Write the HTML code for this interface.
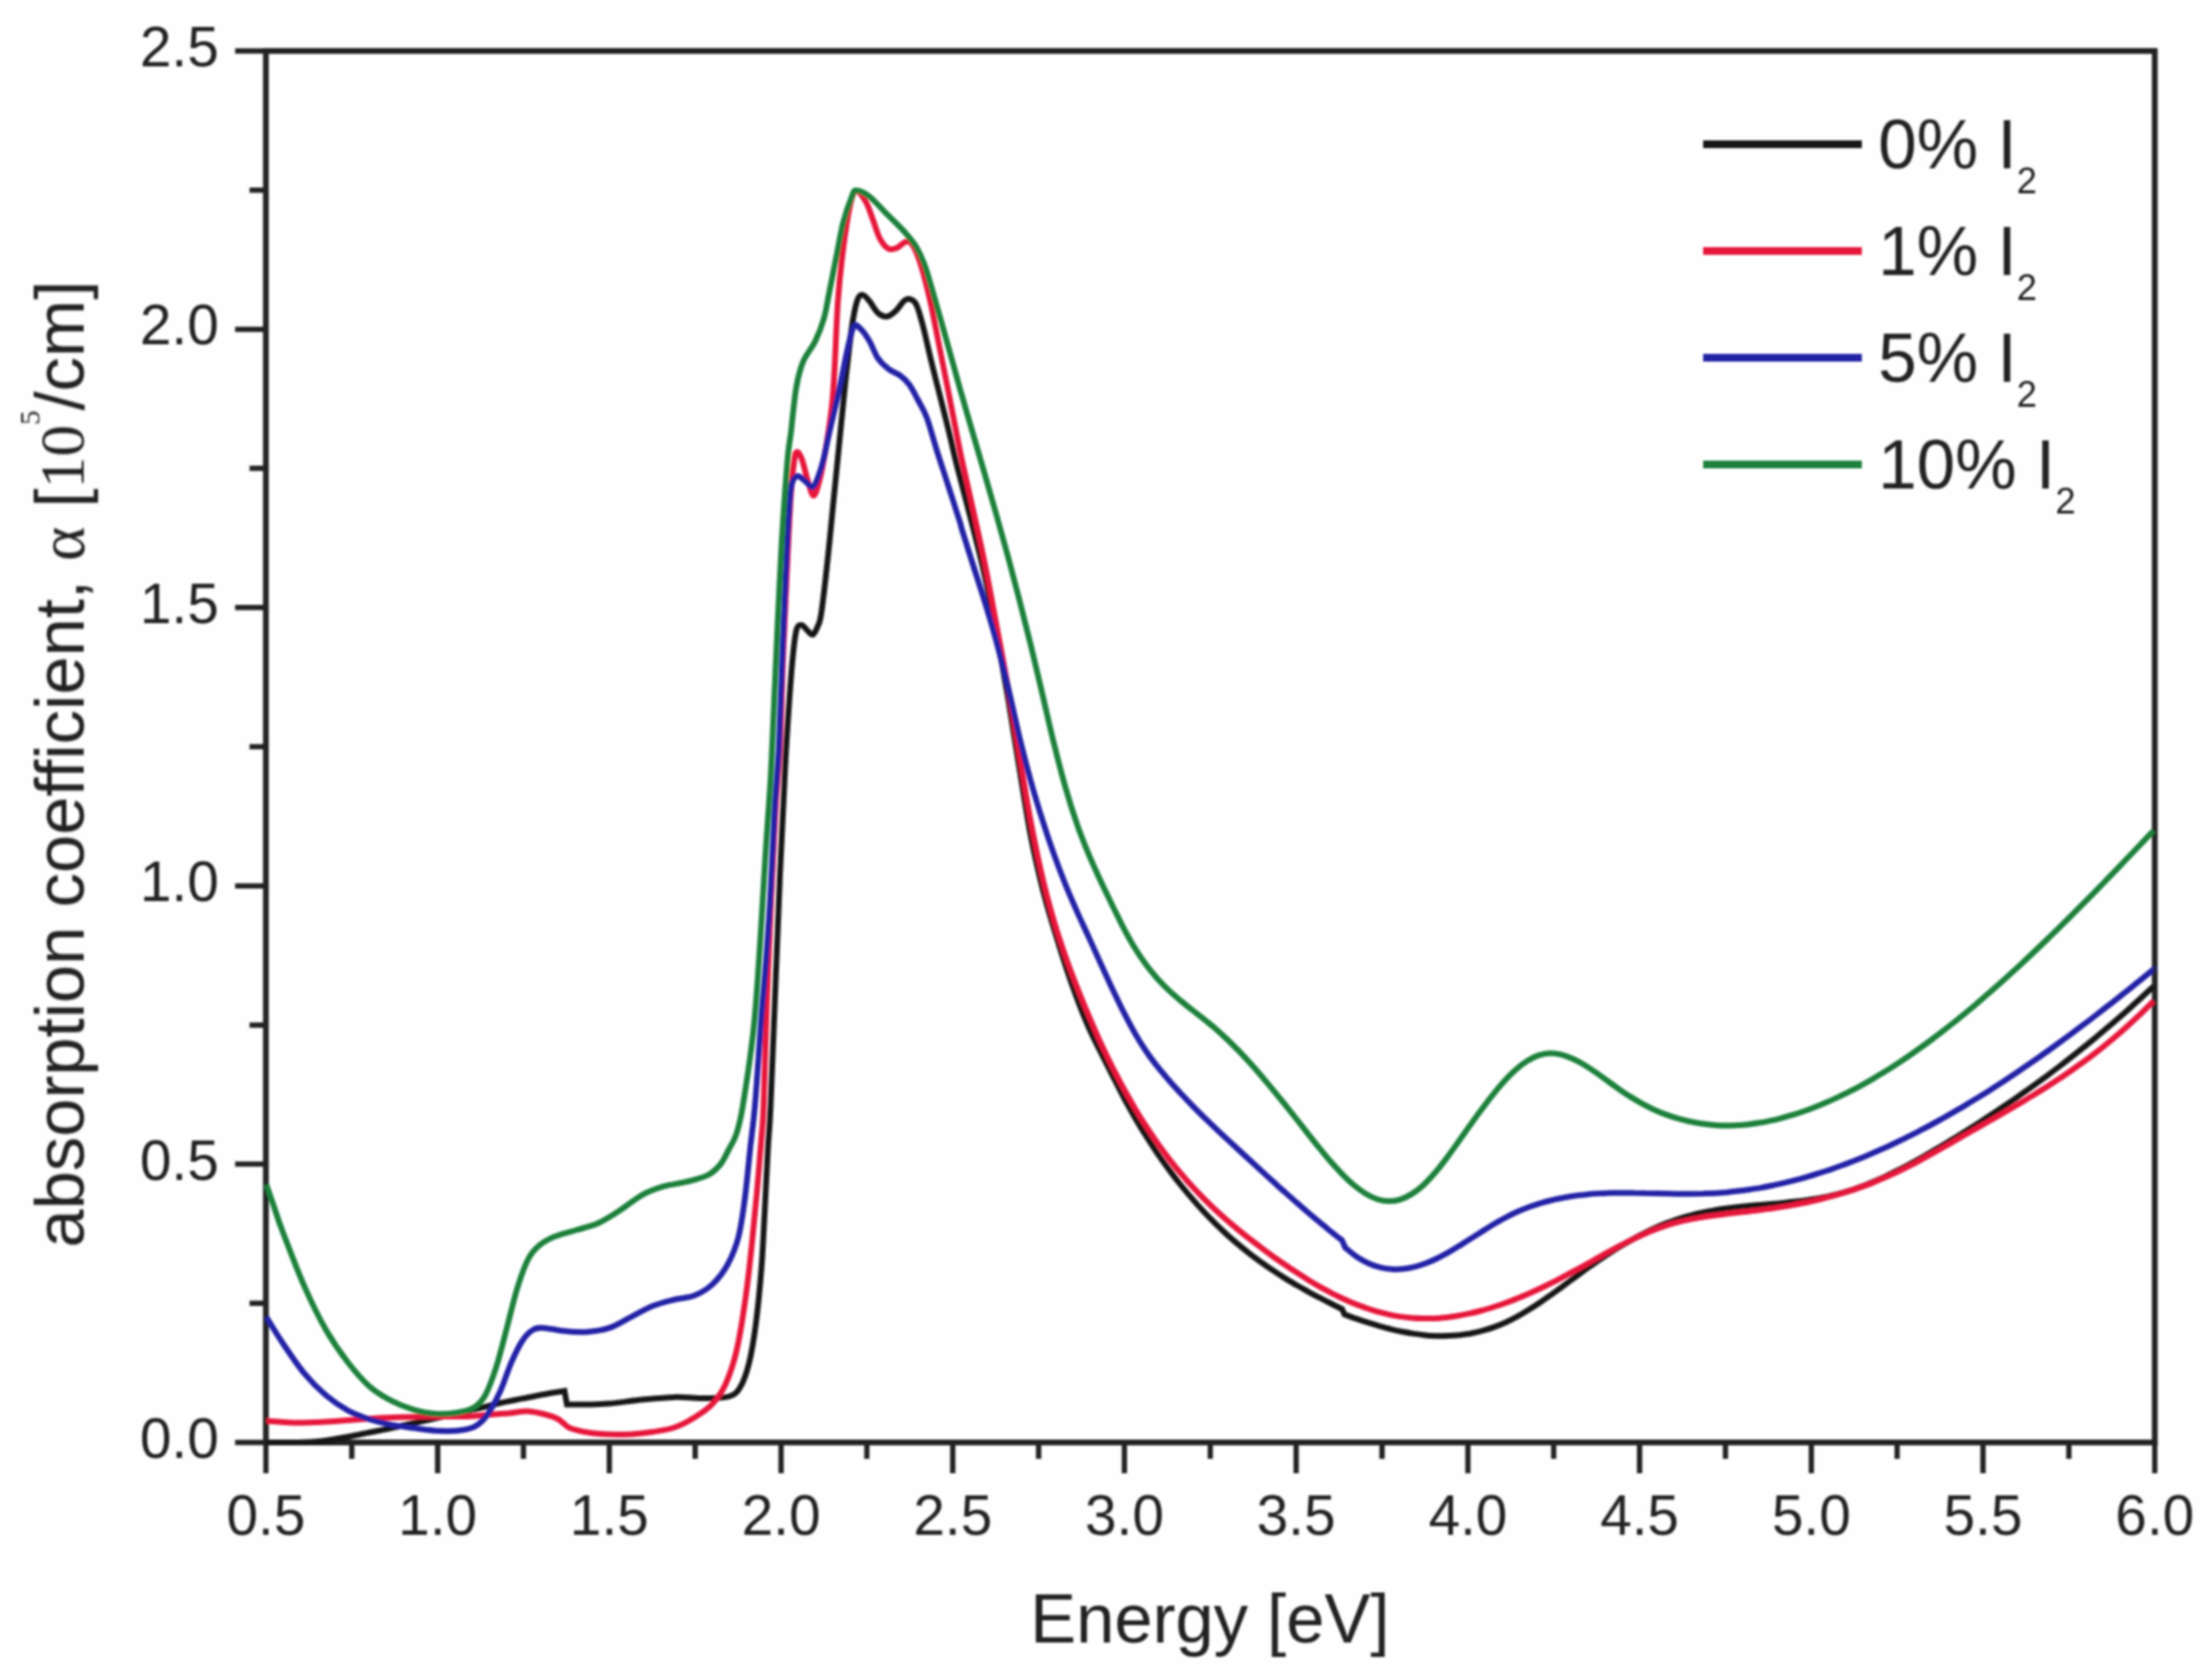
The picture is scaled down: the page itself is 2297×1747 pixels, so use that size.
<!DOCTYPE html>
<html><head><meta charset="utf-8"><title>Absorption coefficient</title>
<style>
html,body{margin:0;padding:0;background:#fefefe;}
svg{display:block;}
text{font-family:"Liberation Sans",Arial,sans-serif;fill:#222;}
</style></head>
<body>
<svg width="2297" height="1747" viewBox="0 0 2297 1747">
<rect width="2297" height="1747" fill="#fefefe"/>
<defs><filter id="soft" x="0" y="0" width="2297" height="1747" filterUnits="userSpaceOnUse"><feGaussianBlur stdDeviation="1.3"/></filter></defs>
<g filter="url(#soft)">
<rect x="276.5" y="53.0" width="1964.1" height="1447.0" fill="none" stroke="#222" stroke-width="6"/>
<path d="M276.5,1500v32M365.8,1500v17M455.1,1500v32M544.3,1500v17M633.6,1500v32M722.9,1500v17M812.2,1500v32M901.4,1500v17M990.7,1500v32M1080.0,1500v17M1169.2,1500v32M1258.5,1500v17M1347.8,1500v32M1437.1,1500v17M1526.4,1500v32M1615.6,1500v17M1704.9,1500v32M1794.2,1500v17M1883.5,1500v32M1972.7,1500v17M2062.0,1500v32M2151.3,1500v17M2240.6,1500v32M276.5,1500.0h-32M276.5,1355.3h-17M276.5,1210.6h-32M276.5,1065.9h-17M276.5,921.2h-32M276.5,776.5h-17M276.5,631.8h-32M276.5,487.1h-17M276.5,342.4h-32M276.5,197.7h-17M276.5,53.0h-32" stroke="#222" stroke-width="5.5" fill="none"/>
<text x="276.5" y="1596" font-size="59" text-anchor="middle">0.5</text>
<text x="455.1" y="1596" font-size="59" text-anchor="middle">1.0</text>
<text x="633.6" y="1596" font-size="59" text-anchor="middle">1.5</text>
<text x="812.2" y="1596" font-size="59" text-anchor="middle">2.0</text>
<text x="990.7" y="1596" font-size="59" text-anchor="middle">2.5</text>
<text x="1169.2" y="1596" font-size="59" text-anchor="middle">3.0</text>
<text x="1347.8" y="1596" font-size="59" text-anchor="middle">3.5</text>
<text x="1526.4" y="1596" font-size="59" text-anchor="middle">4.0</text>
<text x="1704.9" y="1596" font-size="59" text-anchor="middle">4.5</text>
<text x="1883.5" y="1596" font-size="59" text-anchor="middle">5.0</text>
<text x="2062.0" y="1596" font-size="59" text-anchor="middle">5.5</text>
<text x="2240.6" y="1596" font-size="59" text-anchor="middle">6.0</text>
<text x="227.5" y="1516.0" font-size="59" text-anchor="end">0.0</text>
<text x="227.5" y="1226.6" font-size="59" text-anchor="end">0.5</text>
<text x="227.5" y="937.2" font-size="59" text-anchor="end">1.0</text>
<text x="227.5" y="647.8" font-size="59" text-anchor="end">1.5</text>
<text x="227.5" y="358.4" font-size="59" text-anchor="end">2.0</text>
<text x="227.5" y="69.0" font-size="59" text-anchor="end">2.5</text>
<path d="M277.0,1500.0C282.5,1500.0 300.4,1500.2 310.0,1500.0C319.6,1499.8 326.0,1499.6 334.7,1498.6C343.4,1497.6 353.7,1495.5 362.0,1494.0C370.3,1492.5 377.0,1491.0 384.5,1489.5C392.0,1488.0 395.8,1487.4 407.0,1485.0C418.2,1482.6 436.9,1478.4 452.0,1475.0C467.1,1471.6 486.4,1467.3 497.7,1464.6C509.0,1461.9 512.5,1460.7 520.0,1459.0C527.5,1457.3 535.4,1455.9 543.0,1454.4C550.6,1452.9 558.3,1451.3 565.6,1450.0C572.9,1448.7 583.4,1447.1 587.0,1446.5L589.5,1460.5C593.0,1460.5 603.5,1460.7 610.8,1460.5C618.1,1460.3 624.1,1460.4 633.5,1459.6C642.9,1458.8 656.1,1456.7 667.4,1455.6C678.6,1454.5 689.9,1453.2 701.0,1452.9C712.1,1452.6 724.4,1454.2 734.0,1454.0C743.6,1453.8 752.8,1454.0 758.8,1452.0C764.8,1450.0 766.6,1447.8 770.0,1442.0C773.4,1436.2 776.3,1428.0 779.0,1417.0C781.7,1406.0 783.9,1392.5 786.0,1376.3C788.1,1360.1 790.2,1338.7 791.7,1319.8C793.2,1300.9 793.9,1283.8 795.0,1263.0C796.1,1242.2 797.5,1213.8 798.5,1195.0C799.5,1176.2 800.0,1178.5 801.3,1150.0C802.6,1121.5 804.8,1063.9 806.4,1024.0C808.0,984.1 809.5,944.8 811.0,910.8C812.5,876.8 814.3,842.6 815.4,820.0C816.5,797.4 816.4,796.0 817.7,775.0C819.0,754.0 821.7,713.9 823.4,694.0C825.1,674.1 826.3,663.1 828.0,655.8C829.7,648.5 831.7,650.1 833.5,650.0C835.3,649.9 837.1,653.3 839.0,655.0C840.9,656.7 843.2,660.5 845.0,660.0C846.8,659.5 848.5,655.7 850.0,652.0C851.5,648.3 852.2,649.5 854.0,637.7C855.8,625.9 858.5,601.8 860.7,581.0C863.0,560.2 865.2,535.7 867.5,513.0C869.8,490.3 872.4,463.8 874.3,445.0C876.2,426.2 877.8,409.9 878.8,400.0C879.8,390.1 879.2,395.4 880.4,385.4C881.6,375.4 884.0,352.1 885.8,340.0C887.6,327.9 889.4,318.6 891.2,313.0C893.0,307.4 894.6,306.6 896.7,306.6C898.8,306.6 901.3,309.8 904.0,313.0C906.7,316.2 910.0,322.9 913.0,325.6C916.0,328.3 919.0,329.6 922.0,329.3C925.0,329.0 928.0,326.5 931.0,323.8C934.0,321.1 937.6,315.1 940.0,313.0C942.4,310.9 943.5,310.4 945.6,311.0C947.7,311.6 950.4,311.8 952.8,316.6C955.2,321.4 957.4,330.1 960.0,340.0C962.6,349.9 965.3,363.3 968.5,376.3C971.7,389.3 975.9,405.7 979.0,418.0C982.1,430.3 984.5,439.7 987.0,450.0C989.5,460.3 991.8,471.1 994.0,480.0C996.2,488.9 997.0,491.6 1000.0,503.2C1003.0,514.8 1008.0,533.7 1012.0,549.6C1016.0,565.5 1020.0,580.7 1024.0,598.8C1028.0,616.8 1032.0,637.1 1036.0,658.1C1040.0,679.1 1044.0,701.3 1048.0,724.8C1052.0,748.3 1056.0,774.8 1060.0,799.1C1064.0,823.3 1068.0,849.5 1072.0,870.3C1076.0,891.1 1080.0,907.8 1084.0,923.8C1088.0,939.7 1092.0,952.6 1096.0,966.0C1100.0,979.4 1104.0,992.1 1108.0,1004.2C1112.0,1016.3 1116.0,1027.8 1120.0,1038.4C1124.0,1049.1 1128.0,1059.1 1132.0,1068.2C1136.0,1077.2 1140.0,1084.9 1144.0,1093.0C1148.0,1101.1 1152.0,1109.0 1156.0,1116.8C1160.0,1124.7 1164.0,1132.8 1168.0,1140.3C1172.0,1147.8 1176.0,1154.9 1180.0,1161.9C1184.0,1168.8 1188.0,1175.4 1192.0,1181.7C1196.0,1188.1 1200.0,1194.2 1204.0,1200.1C1208.0,1205.9 1212.0,1211.5 1216.0,1216.9C1220.0,1222.4 1224.0,1227.5 1228.0,1232.5C1232.0,1237.5 1236.0,1242.3 1240.0,1246.9C1244.0,1251.6 1248.0,1256.0 1252.0,1260.2C1256.0,1264.5 1260.0,1268.6 1264.0,1272.6C1268.0,1276.5 1272.0,1280.3 1276.0,1283.9C1280.0,1287.6 1284.0,1291.0 1288.0,1294.4C1292.0,1297.8 1296.0,1301.0 1300.0,1304.1C1304.0,1307.2 1308.0,1310.2 1312.0,1313.0C1316.0,1315.9 1320.0,1318.7 1324.0,1321.3C1328.0,1324.0 1332.0,1326.6 1336.0,1329.1C1340.0,1331.6 1344.0,1333.9 1348.0,1336.3C1352.0,1338.6 1356.0,1340.8 1360.0,1343.0C1364.0,1345.2 1368.0,1347.4 1372.0,1349.4C1376.0,1351.5 1380.1,1353.6 1384.0,1355.5C1387.9,1357.5 1393.6,1360.2 1395.5,1361.2L1398.0,1366.8C1400.0,1367.5 1406.0,1369.8 1410.0,1371.2C1414.0,1372.6 1418.0,1373.9 1422.0,1375.2C1426.0,1376.5 1430.0,1377.7 1434.0,1378.9C1438.0,1380.0 1442.0,1381.1 1446.0,1382.1C1450.0,1383.1 1454.0,1384.0 1458.0,1384.8C1462.0,1385.6 1466.0,1386.3 1470.0,1386.9C1474.0,1387.5 1478.0,1388.0 1482.0,1388.4C1486.0,1388.8 1490.0,1389.0 1494.0,1389.2C1498.0,1389.3 1502.0,1389.3 1506.0,1389.1C1510.0,1389.0 1514.0,1388.7 1518.0,1388.3C1522.0,1387.8 1526.0,1387.3 1530.0,1386.5C1534.0,1385.7 1538.0,1384.8 1542.0,1383.7C1546.0,1382.6 1550.0,1381.4 1554.0,1379.9C1558.0,1378.5 1562.0,1376.8 1566.0,1375.0C1570.0,1373.2 1574.0,1371.1 1578.0,1368.9C1582.0,1366.7 1586.0,1364.3 1590.0,1361.8C1594.0,1359.3 1598.0,1356.7 1602.0,1354.0C1606.0,1351.3 1610.0,1348.4 1614.0,1345.6C1618.0,1342.7 1622.0,1339.8 1626.0,1336.8C1630.0,1333.9 1634.0,1330.9 1638.0,1328.0C1642.0,1325.1 1646.0,1322.1 1650.0,1319.2C1654.0,1316.4 1658.0,1313.6 1662.0,1310.8C1666.0,1308.1 1670.0,1305.4 1674.0,1302.9C1678.0,1300.3 1682.0,1297.8 1686.0,1295.5C1690.0,1293.1 1694.0,1290.8 1698.0,1288.6C1702.0,1286.4 1706.0,1284.3 1710.0,1282.3C1714.0,1280.3 1718.0,1278.4 1722.0,1276.6C1726.0,1274.8 1730.0,1273.2 1734.0,1271.6C1738.0,1270.1 1742.0,1268.6 1746.0,1267.3C1750.0,1266.0 1754.0,1264.8 1758.0,1263.8C1762.0,1262.7 1766.0,1261.7 1770.0,1260.9C1774.0,1260.0 1778.0,1259.2 1782.0,1258.6C1786.0,1257.9 1790.0,1257.3 1794.0,1256.7C1798.0,1256.2 1802.0,1255.7 1806.0,1255.2C1810.0,1254.8 1814.0,1254.4 1818.0,1254.0C1822.0,1253.6 1826.0,1253.3 1830.0,1253.0C1834.0,1252.6 1838.0,1252.3 1842.0,1251.9C1846.0,1251.6 1850.0,1251.3 1854.0,1250.9C1858.0,1250.5 1862.0,1250.1 1866.0,1249.6C1870.0,1249.2 1874.0,1248.7 1878.0,1248.1C1882.0,1247.5 1886.0,1246.9 1890.0,1246.2C1894.0,1245.5 1898.0,1244.7 1902.0,1243.9C1906.0,1243.0 1910.0,1242.0 1914.0,1240.9C1918.0,1239.8 1922.0,1238.6 1926.0,1237.3C1930.0,1235.9 1934.0,1234.5 1938.0,1233.0C1942.0,1231.4 1946.0,1229.8 1950.0,1228.0C1954.0,1226.3 1958.0,1224.5 1962.0,1222.6C1966.0,1220.7 1970.0,1218.7 1974.0,1216.7C1978.0,1214.7 1982.0,1212.5 1986.0,1210.4C1990.0,1208.2 1994.0,1206.0 1998.0,1203.8C2002.0,1201.5 2006.0,1199.2 2010.0,1196.9C2014.0,1194.5 2018.0,1192.1 2022.0,1189.8C2026.0,1187.4 2030.0,1184.9 2034.0,1182.5C2038.0,1180.0 2042.0,1177.6 2046.0,1175.1C2050.0,1172.5 2054.0,1170.0 2058.0,1167.4C2062.0,1164.9 2066.0,1162.3 2070.0,1159.6C2074.0,1157.0 2078.0,1154.3 2082.0,1151.6C2086.0,1148.9 2090.0,1146.2 2094.0,1143.5C2098.0,1140.7 2102.0,1137.9 2106.0,1135.0C2110.0,1132.2 2114.0,1129.3 2118.0,1126.4C2122.0,1123.5 2126.0,1120.6 2130.0,1117.6C2134.0,1114.6 2138.0,1111.6 2142.0,1108.5C2146.0,1105.5 2150.0,1102.4 2154.0,1099.2C2158.0,1096.1 2162.0,1092.9 2166.0,1089.7C2170.0,1086.5 2174.0,1083.2 2178.0,1079.9C2182.0,1076.6 2186.0,1073.2 2190.0,1069.8C2194.0,1066.4 2198.0,1063.0 2202.0,1059.5C2206.0,1056.0 2210.0,1052.5 2214.0,1048.9C2218.0,1045.3 2222.0,1041.7 2226.0,1038.0C2230.0,1034.4 2235.8,1028.9 2238.0,1026.9C2240.2,1024.8 2239.1,1025.9 2239.3,1025.7" stroke="#161616" stroke-width="6" fill="none" stroke-linejoin="miter" stroke-linecap="butt"/>
<path d="M277.0,1477.5C281.7,1477.8 294.7,1479.3 305.0,1479.5C315.3,1479.7 327.7,1479.1 339.0,1478.5C350.3,1477.9 361.7,1476.8 373.0,1476.0C384.3,1475.2 394.2,1474.5 407.0,1474.0C419.8,1473.5 436.8,1473.2 450.0,1473.0C463.2,1472.8 476.2,1473.3 486.0,1473.0C495.8,1472.7 501.7,1471.6 509.0,1471.0C516.3,1470.4 523.5,1470.1 530.0,1469.5C536.5,1468.9 542.1,1467.3 548.0,1467.5C553.9,1467.7 560.4,1469.2 565.6,1470.5C570.8,1471.8 575.6,1473.4 579.0,1475.0C582.4,1476.6 583.7,1478.3 586.0,1480.0C588.3,1481.7 588.6,1483.4 592.7,1485.0C596.8,1486.6 604.0,1488.4 610.8,1489.5C617.6,1490.6 626.0,1491.2 633.5,1491.5C641.0,1491.8 648.5,1491.9 656.0,1491.5C663.5,1491.1 671.2,1490.2 678.7,1489.0C686.2,1487.8 693.7,1487.0 701.0,1484.5C708.3,1482.0 716.0,1477.8 722.6,1473.7C729.2,1469.6 735.4,1465.7 740.7,1460.0C746.0,1454.3 750.1,1448.7 754.3,1439.7C758.4,1430.7 762.2,1420.1 765.6,1405.8C769.0,1391.5 772.1,1371.8 774.7,1353.7C777.4,1335.6 779.5,1315.9 781.5,1297.0C783.5,1278.1 785.3,1259.3 787.0,1240.5C788.7,1221.7 790.5,1199.1 791.7,1184.0C792.9,1168.9 793.1,1172.9 794.0,1150.0C794.9,1127.1 796.0,1082.8 797.3,1046.6C798.6,1010.4 800.4,966.9 801.9,933.0C803.4,899.1 804.9,869.3 806.4,843.0C807.9,816.7 809.7,801.7 811.0,775.0C812.3,748.3 813.1,712.2 814.3,683.0C815.5,653.8 816.7,627.2 818.0,600.0C819.3,572.8 820.7,540.3 822.0,520.0C823.3,499.7 824.8,486.3 826.0,478.0C827.2,469.7 827.7,470.0 829.0,470.0C830.3,470.0 832.2,473.0 834.0,478.0C835.8,483.0 838.0,493.8 840.0,500.0C842.0,506.2 844.0,515.4 846.0,515.4C848.0,515.4 849.9,507.9 852.0,500.0C854.1,492.1 856.2,480.9 858.4,468.0C860.6,455.1 863.5,436.4 865.0,422.6C866.5,408.8 866.7,403.7 867.7,385.4C868.8,367.1 869.8,334.1 871.3,313.0C872.8,291.9 874.7,275.2 876.8,258.6C878.9,242.0 881.8,223.4 884.0,213.4C886.2,203.4 887.6,199.5 890.3,198.9C893.0,198.3 897.4,205.0 900.3,209.8C903.2,214.6 905.1,221.6 907.5,227.9C909.9,234.2 912.1,242.7 914.8,247.8C917.5,252.9 920.8,257.0 923.8,258.6C926.8,260.2 929.9,258.9 932.9,257.7C935.9,256.5 939.3,251.8 942.0,251.4C944.7,251.0 946.3,250.8 949.0,255.0C951.7,259.2 955.0,267.1 958.0,276.8C961.0,286.5 964.2,299.5 967.3,313.0C970.3,326.5 973.3,342.9 976.3,358.0C979.3,373.1 982.4,388.2 985.4,403.5C988.4,418.8 992.1,437.7 994.5,450.0C996.9,462.3 997.1,463.9 1000.0,477.4C1002.9,490.9 1008.0,512.9 1012.0,531.0C1016.0,549.2 1020.0,566.5 1024.0,586.2C1028.0,606.0 1032.0,628.0 1036.0,649.4C1040.0,670.7 1044.0,691.5 1048.0,714.3C1052.0,737.0 1056.0,762.4 1060.0,786.0C1064.0,809.5 1068.0,834.5 1072.0,855.6C1076.0,876.8 1080.0,895.8 1084.0,912.9C1088.0,930.0 1092.0,944.5 1096.0,958.2C1100.0,971.9 1104.0,983.7 1108.0,995.1C1112.0,1006.6 1116.0,1016.8 1120.0,1026.9C1124.0,1037.1 1128.0,1046.8 1132.0,1056.2C1136.0,1065.6 1140.0,1074.7 1144.0,1083.4C1148.0,1092.0 1152.0,1100.4 1156.0,1108.3C1160.0,1116.3 1164.0,1124.0 1168.0,1131.3C1172.0,1138.6 1176.0,1145.6 1180.0,1152.4C1184.0,1159.1 1188.0,1165.5 1192.0,1171.7C1196.0,1177.8 1200.0,1183.7 1204.0,1189.4C1208.0,1195.0 1212.0,1200.4 1216.0,1205.6C1220.0,1210.7 1224.0,1215.7 1228.0,1220.4C1232.0,1225.2 1236.0,1229.7 1240.0,1234.1C1244.0,1238.4 1248.0,1242.6 1252.0,1246.6C1256.0,1250.6 1260.0,1254.5 1264.0,1258.2C1268.0,1261.9 1272.0,1265.5 1276.0,1269.0C1280.0,1272.5 1284.0,1275.8 1288.0,1279.1C1292.0,1282.4 1296.0,1285.5 1300.0,1288.7C1304.0,1291.8 1308.0,1294.8 1312.0,1297.8C1316.0,1300.8 1320.0,1303.8 1324.0,1306.7C1328.0,1309.5 1332.0,1312.4 1336.0,1315.1C1340.0,1317.9 1344.0,1320.5 1348.0,1323.1C1352.0,1325.7 1356.0,1328.3 1360.0,1330.7C1364.0,1333.2 1368.0,1335.5 1372.0,1337.8C1376.0,1340.0 1380.0,1342.2 1384.0,1344.3C1388.0,1346.4 1392.0,1348.3 1396.0,1350.2C1400.0,1352.1 1404.0,1353.8 1408.0,1355.5C1412.0,1357.1 1416.0,1358.6 1420.0,1360.0C1424.0,1361.4 1428.0,1362.7 1432.0,1363.9C1436.0,1365.0 1440.0,1366.0 1444.0,1366.9C1448.0,1367.8 1452.0,1368.5 1456.0,1369.1C1460.0,1369.7 1464.0,1370.2 1468.0,1370.5C1472.0,1370.8 1476.0,1371.0 1480.0,1371.1C1484.0,1371.1 1488.0,1371.0 1492.0,1370.9C1496.0,1370.7 1500.0,1370.3 1504.0,1369.9C1508.0,1369.5 1512.0,1368.9 1516.0,1368.2C1520.0,1367.6 1524.0,1366.8 1528.0,1365.9C1532.0,1365.1 1536.0,1364.1 1540.0,1363.0C1544.0,1361.9 1548.0,1360.8 1552.0,1359.5C1556.0,1358.2 1560.0,1356.9 1564.0,1355.5C1568.0,1354.0 1572.0,1352.5 1576.0,1350.9C1580.0,1349.3 1584.0,1347.7 1588.0,1345.9C1592.0,1344.2 1596.0,1342.4 1600.0,1340.5C1604.0,1338.7 1608.0,1336.7 1612.0,1334.8C1616.0,1332.8 1620.0,1330.7 1624.0,1328.6C1628.0,1326.6 1632.0,1324.4 1636.0,1322.2C1640.0,1320.1 1644.0,1317.8 1648.0,1315.6C1652.0,1313.4 1656.0,1311.1 1660.0,1308.9C1664.0,1306.6 1668.0,1304.4 1672.0,1302.2C1676.0,1300.0 1680.0,1297.8 1684.0,1295.7C1688.0,1293.6 1692.0,1291.5 1696.0,1289.6C1700.0,1287.6 1704.0,1285.7 1708.0,1283.9C1712.0,1282.1 1716.0,1280.4 1720.0,1278.9C1724.0,1277.3 1728.0,1275.9 1732.0,1274.6C1736.0,1273.4 1740.0,1272.2 1744.0,1271.2C1748.0,1270.1 1752.0,1269.2 1756.0,1268.4C1760.0,1267.5 1764.0,1266.8 1768.0,1266.1C1772.0,1265.4 1776.0,1264.8 1780.0,1264.2C1784.0,1263.7 1788.0,1263.2 1792.0,1262.7C1796.0,1262.2 1800.0,1261.7 1804.0,1261.3C1808.0,1260.8 1812.0,1260.4 1816.0,1259.9C1820.0,1259.5 1824.0,1259.0 1828.0,1258.5C1832.0,1258.0 1836.0,1257.5 1840.0,1256.9C1844.0,1256.4 1848.0,1255.8 1852.0,1255.1C1856.0,1254.5 1860.0,1253.8 1864.0,1253.1C1868.0,1252.4 1872.0,1251.6 1876.0,1250.8C1880.0,1250.0 1884.0,1249.1 1888.0,1248.2C1892.0,1247.2 1896.0,1246.3 1900.0,1245.2C1904.0,1244.2 1908.0,1243.1 1912.0,1241.9C1916.0,1240.8 1920.0,1239.5 1924.0,1238.2C1928.0,1236.9 1932.0,1235.6 1936.0,1234.1C1940.0,1232.7 1944.0,1231.2 1948.0,1229.6C1952.0,1228.0 1956.0,1226.3 1960.0,1224.6C1964.0,1222.8 1968.0,1221.0 1972.0,1219.1C1976.0,1217.2 1980.0,1215.2 1984.0,1213.1C1988.0,1211.1 1992.0,1209.0 1996.0,1206.8C2000.0,1204.7 2004.0,1202.5 2008.0,1200.2C2012.0,1198.0 2016.0,1195.7 2020.0,1193.5C2024.0,1191.2 2028.0,1188.9 2032.0,1186.6C2036.0,1184.3 2040.0,1182.0 2044.0,1179.7C2048.0,1177.4 2052.0,1175.1 2056.0,1172.8C2060.0,1170.5 2064.0,1168.3 2068.0,1166.0C2072.0,1163.7 2076.0,1161.4 2080.0,1159.1C2084.0,1156.8 2088.0,1154.5 2092.0,1152.2C2096.0,1149.8 2100.0,1147.5 2104.0,1145.1C2108.0,1142.7 2112.0,1140.3 2116.0,1137.8C2120.0,1135.4 2124.0,1132.9 2128.0,1130.4C2132.0,1127.8 2136.0,1125.2 2140.0,1122.6C2144.0,1119.9 2148.0,1117.3 2152.0,1114.5C2156.0,1111.7 2160.0,1108.9 2164.0,1106.0C2168.0,1103.1 2172.0,1100.2 2176.0,1097.1C2180.0,1094.1 2184.0,1091.0 2188.0,1087.7C2192.0,1084.5 2196.0,1081.2 2200.0,1077.8C2204.0,1074.4 2208.0,1070.9 2212.0,1067.3C2216.0,1063.7 2220.0,1060.0 2224.0,1056.2C2228.0,1052.4 2233.4,1046.9 2236.0,1044.4C2238.6,1041.8 2238.8,1041.6 2239.3,1041.0" stroke="#e6123a" stroke-width="6" fill="none" stroke-linejoin="miter" stroke-linecap="butt"/>
<path d="M277.0,1369.6C279.8,1374.1 287.4,1386.9 294.0,1396.7C300.6,1406.5 309.1,1419.4 316.6,1428.4C324.1,1437.5 331.4,1444.6 339.0,1451.0C346.6,1457.4 354.4,1462.7 362.0,1466.9C369.6,1471.1 377.0,1473.5 384.5,1476.0C392.0,1478.5 399.4,1480.1 407.0,1481.6C414.6,1483.1 422.5,1484.0 430.0,1485.0C437.5,1486.0 444.5,1487.2 452.0,1487.7C459.5,1488.2 468.2,1488.3 475.0,1487.7C481.8,1487.1 487.7,1486.6 493.0,1483.9C498.3,1481.2 502.1,1477.6 506.7,1471.4C511.2,1465.2 516.1,1455.6 520.3,1446.5C524.4,1437.4 527.8,1425.7 531.6,1417.0C535.4,1408.3 539.3,1400.2 543.0,1394.5C546.7,1388.8 550.2,1385.3 554.0,1383.0C557.8,1380.7 559.9,1380.7 565.6,1380.9C571.3,1381.1 580.5,1383.6 588.0,1384.3C595.5,1385.0 603.2,1385.6 610.8,1385.0C618.4,1384.4 626.0,1383.5 633.5,1380.9C641.0,1378.3 648.5,1373.4 656.0,1369.6C663.5,1365.8 671.2,1361.0 678.7,1358.0C686.2,1355.0 693.7,1353.3 701.0,1351.5C708.3,1349.7 716.0,1349.7 722.6,1347.0C729.2,1344.3 735.0,1340.9 740.7,1335.6C746.4,1330.3 752.1,1323.3 756.6,1315.0C761.1,1306.7 765.0,1297.5 768.0,1285.8C771.0,1274.1 772.7,1260.1 774.7,1245.0C776.7,1229.9 778.3,1210.8 780.0,1195.0C781.7,1179.2 783.0,1172.8 785.0,1150.0C787.0,1127.2 789.8,1083.0 791.7,1058.0C793.6,1033.0 795.0,1020.8 796.5,1000.0C798.0,979.2 799.5,959.2 801.0,933.0C802.5,906.8 804.0,869.3 805.5,843.0C807.0,816.7 808.7,801.7 810.0,775.0C811.3,748.3 812.3,712.2 813.5,683.0C814.7,653.8 815.9,623.8 817.0,600.0C818.1,576.2 819.0,555.8 820.0,540.0C821.0,524.2 821.5,512.5 823.0,505.0C824.5,497.5 826.7,495.8 829.0,495.0C831.3,494.2 834.3,498.1 837.0,500.0C839.7,501.9 842.7,507.2 845.0,506.4C847.3,505.6 849.2,499.6 851.0,495.0C852.8,490.4 854.1,486.5 856.0,479.0C857.9,471.5 859.5,462.6 862.3,450.0C865.1,437.4 870.0,417.3 873.0,403.5C876.0,389.7 878.0,377.9 880.4,367.3C882.8,356.7 885.2,344.2 887.6,340.0C890.0,335.8 892.2,339.6 894.9,342.0C897.6,344.4 901.0,349.5 904.0,354.6C907.0,359.7 909.7,367.9 913.0,372.7C916.3,377.5 919.9,380.6 923.8,383.6C927.7,386.6 932.9,388.1 936.5,390.8C940.1,393.5 942.6,395.7 945.6,399.9C948.6,404.1 951.6,410.3 954.6,416.0C957.6,421.7 960.5,425.6 963.7,434.3C966.9,443.0 970.3,456.2 974.0,468.0C977.7,479.8 981.9,492.3 986.0,505.0C990.1,517.7 996.3,536.8 998.6,544.3C1000.9,551.8 997.8,542.6 1000.0,549.8C1002.2,557.1 1008.0,575.3 1012.0,588.0C1016.0,600.6 1020.0,612.7 1024.0,625.8C1028.0,639.0 1032.0,652.0 1036.0,666.6C1040.0,681.3 1044.0,697.2 1048.0,713.8C1052.0,730.3 1056.0,749.6 1060.0,766.1C1064.0,782.6 1068.0,798.3 1072.0,812.8C1076.0,827.3 1080.0,840.3 1084.0,852.9C1088.0,865.6 1092.0,877.4 1096.0,888.6C1100.0,899.9 1104.0,910.3 1108.0,920.2C1112.0,930.1 1116.0,939.0 1120.0,948.1C1124.0,957.1 1128.0,965.5 1132.0,974.3C1136.0,983.1 1140.0,992.0 1144.0,1000.7C1148.0,1009.5 1152.0,1018.4 1156.0,1026.9C1160.0,1035.3 1164.0,1043.8 1168.0,1051.7C1172.0,1059.6 1176.0,1067.3 1180.0,1074.2C1184.0,1081.2 1188.0,1087.6 1192.0,1093.5C1196.0,1099.4 1200.0,1104.6 1204.0,1109.7C1208.0,1114.8 1212.0,1119.4 1216.0,1124.0C1220.0,1128.6 1224.0,1132.9 1228.0,1137.2C1232.0,1141.5 1236.0,1145.7 1240.0,1149.8C1244.0,1153.9 1248.0,1157.9 1252.0,1161.8C1256.0,1165.7 1260.0,1169.5 1264.0,1173.3C1268.0,1177.1 1272.0,1180.9 1276.0,1184.6C1280.0,1188.3 1284.0,1192.0 1288.0,1195.7C1292.0,1199.4 1296.0,1203.1 1300.0,1206.8C1304.0,1210.5 1308.0,1214.2 1312.0,1217.9C1316.0,1221.5 1320.0,1225.2 1324.0,1228.8C1328.0,1232.4 1332.0,1236.1 1336.0,1239.6C1340.0,1243.2 1344.0,1246.8 1348.0,1250.3C1352.0,1253.8 1356.0,1257.3 1360.0,1260.7C1364.0,1264.1 1368.0,1267.5 1372.0,1270.8C1376.0,1274.2 1380.1,1277.5 1384.0,1280.7C1387.9,1283.9 1393.6,1288.3 1395.5,1289.8L1399.0,1297.7C1401.0,1299.2 1407.0,1304.3 1411.0,1307.0C1415.0,1309.7 1419.0,1311.9 1423.0,1313.7C1427.0,1315.5 1431.0,1316.9 1435.0,1317.9C1439.0,1318.9 1443.0,1319.5 1447.0,1319.8C1451.0,1320.1 1455.0,1320.0 1459.0,1319.6C1463.0,1319.2 1467.0,1318.4 1471.0,1317.4C1475.0,1316.4 1479.0,1315.1 1483.0,1313.5C1487.0,1312.0 1491.0,1310.2 1495.0,1308.2C1499.0,1306.2 1503.0,1304.0 1507.0,1301.8C1511.0,1299.5 1515.0,1297.0 1519.0,1294.6C1523.0,1292.1 1527.0,1289.5 1531.0,1287.0C1535.0,1284.5 1539.0,1281.9 1543.0,1279.4C1547.0,1276.9 1551.0,1274.4 1555.0,1272.0C1559.0,1269.7 1563.0,1267.4 1567.0,1265.4C1571.0,1263.3 1575.0,1261.4 1579.0,1259.6C1583.0,1257.9 1587.0,1256.3 1591.0,1254.8C1595.0,1253.3 1599.0,1252.0 1603.0,1250.8C1607.0,1249.7 1611.0,1248.6 1615.0,1247.7C1619.0,1246.7 1623.0,1245.9 1627.0,1245.2C1631.0,1244.4 1635.0,1243.8 1639.0,1243.3C1643.0,1242.7 1647.0,1242.3 1651.0,1241.9C1655.0,1241.6 1659.0,1241.3 1663.0,1241.1C1667.0,1240.8 1671.0,1240.7 1675.0,1240.6C1679.0,1240.5 1683.0,1240.4 1687.0,1240.4C1691.0,1240.4 1695.0,1240.4 1699.0,1240.5C1703.0,1240.5 1707.0,1240.6 1711.0,1240.7C1715.0,1240.7 1719.0,1240.8 1723.0,1240.9C1727.0,1241.0 1731.0,1241.1 1735.0,1241.2C1739.0,1241.3 1743.0,1241.4 1747.0,1241.4C1751.0,1241.4 1755.0,1241.5 1759.0,1241.4C1763.0,1241.4 1767.0,1241.4 1771.0,1241.3C1775.0,1241.1 1779.0,1241.0 1783.0,1240.7C1787.0,1240.5 1791.0,1240.2 1795.0,1239.9C1799.0,1239.5 1803.0,1239.1 1807.0,1238.6C1811.0,1238.2 1815.0,1237.6 1819.0,1237.0C1823.0,1236.4 1827.0,1235.8 1831.0,1235.1C1835.0,1234.4 1839.0,1233.6 1843.0,1232.8C1847.0,1231.9 1851.0,1231.1 1855.0,1230.1C1859.0,1229.2 1863.0,1228.2 1867.0,1227.1C1871.0,1226.1 1875.0,1225.0 1879.0,1223.8C1883.0,1222.7 1887.0,1221.5 1891.0,1220.2C1895.0,1218.9 1899.0,1217.6 1903.0,1216.3C1907.0,1214.9 1911.0,1213.5 1915.0,1212.0C1919.0,1210.6 1923.0,1209.1 1927.0,1207.5C1931.0,1205.9 1935.0,1204.3 1939.0,1202.7C1943.0,1201.0 1947.0,1199.3 1951.0,1197.6C1955.0,1195.8 1959.0,1194.0 1963.0,1192.2C1967.0,1190.3 1971.0,1188.4 1975.0,1186.5C1979.0,1184.6 1983.0,1182.6 1987.0,1180.6C1991.0,1178.6 1995.0,1176.5 1999.0,1174.4C2003.0,1172.3 2007.0,1170.2 2011.0,1168.0C2015.0,1165.8 2019.0,1163.6 2023.0,1161.3C2027.0,1159.1 2031.0,1156.8 2035.0,1154.4C2039.0,1152.1 2043.0,1149.7 2047.0,1147.3C2051.0,1144.9 2055.0,1142.5 2059.0,1140.0C2063.0,1137.5 2067.0,1135.0 2071.0,1132.4C2075.0,1129.9 2079.0,1127.3 2083.0,1124.7C2087.0,1122.0 2091.0,1119.4 2095.0,1116.7C2099.0,1114.0 2103.0,1111.3 2107.0,1108.6C2111.0,1105.8 2115.0,1103.0 2119.0,1100.2C2123.0,1097.4 2127.0,1094.6 2131.0,1091.7C2135.0,1088.8 2139.0,1085.9 2143.0,1083.0C2147.0,1080.1 2151.0,1077.2 2155.0,1074.2C2159.0,1071.2 2163.0,1068.2 2167.0,1065.2C2171.0,1062.2 2175.0,1059.1 2179.0,1056.0C2183.0,1053.0 2187.0,1049.9 2191.0,1046.7C2195.0,1043.6 2199.0,1040.5 2203.0,1037.3C2207.0,1034.2 2211.0,1031.0 2215.0,1027.8C2219.0,1024.6 2223.0,1021.3 2227.0,1018.1C2231.0,1014.9 2236.9,1010.0 2239.0,1008.3C2241.1,1006.6 2239.2,1008.1 2239.3,1008.1" stroke="#2420a6" stroke-width="6" fill="none" stroke-linejoin="miter" stroke-linecap="butt"/>
<path d="M277.0,1232.0C278.3,1235.8 282.2,1246.8 285.0,1255.0C287.8,1263.2 288.7,1267.2 294.0,1281.0C299.3,1294.8 309.1,1320.9 316.6,1337.9C324.1,1354.9 331.4,1369.8 339.0,1383.0C346.6,1396.2 354.4,1407.2 362.0,1417.0C369.6,1426.8 377.0,1435.4 384.5,1442.0C392.0,1448.6 399.4,1452.7 407.0,1456.7C414.6,1460.7 422.5,1463.6 430.0,1465.8C437.5,1468.0 444.5,1469.5 452.0,1470.0C459.5,1470.5 468.2,1470.1 475.0,1469.0C481.8,1467.9 488.1,1466.5 493.0,1463.5C497.9,1460.5 500.7,1458.0 504.5,1451.0C508.3,1444.0 512.2,1433.3 516.0,1421.6C519.8,1409.9 523.3,1395.0 527.0,1381.0C530.7,1367.0 534.6,1350.0 538.4,1337.9C542.2,1325.8 545.9,1315.6 549.7,1308.4C553.5,1301.2 556.5,1298.7 561.0,1294.9C565.5,1291.1 570.6,1288.5 577.0,1285.8C583.4,1283.1 592.0,1281.3 599.5,1279.0C607.0,1276.7 614.5,1275.4 622.0,1272.0C629.5,1268.6 637.2,1263.5 644.8,1258.6C652.4,1253.7 659.9,1246.9 667.4,1242.8C674.9,1238.7 682.5,1236.0 690.0,1233.7C697.5,1231.4 705.2,1231.1 712.7,1229.2C720.2,1227.3 729.2,1225.4 735.3,1222.4C741.3,1219.4 745.2,1215.6 749.0,1211.0C752.8,1206.4 755.2,1200.3 758.0,1195.0C760.8,1189.7 763.2,1186.9 765.6,1179.4C768.0,1171.9 769.4,1168.4 772.4,1150.0C775.4,1131.6 780.7,1097.5 783.7,1069.0C786.7,1040.5 788.5,1008.9 790.5,978.7C792.5,948.5 794.3,914.5 796.0,888.0C797.7,861.5 799.5,838.8 800.7,820.0C801.9,801.2 801.7,803.5 803.0,775.0C804.3,746.5 806.9,685.1 808.6,649.0C810.3,612.9 811.5,586.7 813.2,558.4C814.9,530.1 817.3,497.1 818.8,479.0C820.3,460.9 820.9,462.6 822.4,450.0C823.9,437.4 825.8,415.8 827.9,403.5C830.0,391.2 831.7,384.4 835.0,376.3C838.3,368.2 844.2,362.2 847.8,354.6C851.4,347.1 854.4,339.4 856.8,331.0C859.2,322.6 860.2,314.6 862.3,304.0C864.4,293.4 867.1,279.8 869.5,267.7C871.9,255.6 874.1,242.1 876.8,231.5C879.5,220.9 883.5,209.9 885.8,204.3C888.0,198.7 887.3,198.0 890.3,198.0C893.3,198.0 898.7,200.2 904.0,204.3C909.3,208.4 916.0,216.4 922.0,222.4C928.0,228.4 934.9,234.8 940.0,240.5C945.1,246.2 949.1,250.8 952.8,256.8C956.4,262.9 958.6,267.4 961.9,276.8C965.2,286.2 968.8,299.5 972.7,313.0C976.6,326.5 981.2,342.9 985.4,358.0C989.6,373.1 995.6,394.7 998.0,403.5C1000.4,412.3 997.7,402.5 1000.0,410.5C1002.3,418.6 1008.0,438.2 1012.0,451.9C1016.0,465.7 1020.0,479.3 1024.0,493.2C1028.0,507.0 1032.0,520.8 1036.0,535.0C1040.0,549.2 1044.0,563.6 1048.0,578.3C1052.0,593.1 1056.0,608.2 1060.0,623.7C1064.0,639.2 1068.0,655.1 1072.0,671.5C1076.0,687.9 1080.0,705.2 1084.0,722.2C1088.0,739.2 1092.0,757.3 1096.0,773.4C1100.0,789.6 1104.0,805.3 1108.0,819.2C1112.0,833.2 1116.0,845.7 1120.0,857.2C1124.0,868.7 1128.0,878.6 1132.0,888.2C1136.0,897.9 1140.0,906.4 1144.0,915.1C1148.0,923.7 1152.0,932.0 1156.0,940.2C1160.0,948.4 1164.0,956.7 1168.0,964.3C1172.0,971.9 1176.0,979.2 1180.0,985.8C1184.0,992.3 1188.0,998.1 1192.0,1003.5C1196.0,1008.9 1200.0,1013.7 1204.0,1018.2C1208.0,1022.6 1212.0,1026.6 1216.0,1030.4C1220.0,1034.2 1224.0,1037.5 1228.0,1040.9C1232.0,1044.2 1236.0,1047.3 1240.0,1050.5C1244.0,1053.6 1248.0,1056.6 1252.0,1059.8C1256.0,1063.1 1260.0,1066.3 1264.0,1069.7C1268.0,1073.2 1272.0,1076.9 1276.0,1080.7C1280.0,1084.5 1284.0,1088.6 1288.0,1092.7C1292.0,1096.9 1296.0,1101.2 1300.0,1105.6C1304.0,1110.1 1308.0,1114.7 1312.0,1119.3C1316.0,1124.0 1320.0,1128.8 1324.0,1133.6C1328.0,1138.5 1332.0,1143.4 1336.0,1148.4C1340.0,1153.4 1344.0,1158.4 1348.0,1163.5C1352.0,1168.6 1356.0,1173.7 1360.0,1178.8C1364.0,1183.9 1368.0,1189.0 1372.0,1193.9C1376.0,1198.8 1380.0,1203.7 1384.0,1208.3C1388.0,1212.8 1392.0,1217.3 1396.0,1221.3C1400.0,1225.4 1404.0,1229.2 1408.0,1232.5C1412.0,1235.8 1416.0,1238.8 1420.0,1241.2C1424.0,1243.6 1428.0,1245.7 1432.0,1247.0C1436.0,1248.3 1440.0,1249.1 1444.0,1249.1C1448.0,1249.2 1452.0,1248.6 1456.0,1247.3C1460.0,1246.0 1464.0,1244.1 1468.0,1241.6C1472.0,1239.1 1476.0,1236.0 1480.0,1232.4C1484.0,1228.7 1488.0,1224.5 1492.0,1219.8C1496.0,1215.2 1500.0,1209.9 1504.0,1204.6C1508.0,1199.3 1512.0,1193.6 1516.0,1188.0C1520.0,1182.4 1524.0,1176.7 1528.0,1171.1C1532.0,1165.5 1536.0,1159.8 1540.0,1154.5C1544.0,1149.1 1548.0,1143.7 1552.0,1138.8C1556.0,1133.8 1560.0,1129.0 1564.0,1124.6C1568.0,1120.2 1572.0,1116.1 1576.0,1112.6C1580.0,1109.0 1584.0,1105.8 1588.0,1103.3C1592.0,1100.8 1596.0,1098.7 1600.0,1097.4C1604.0,1096.1 1608.0,1095.4 1612.0,1095.3C1616.0,1095.2 1620.0,1095.9 1624.0,1096.8C1628.0,1097.8 1632.0,1099.4 1636.0,1101.2C1640.0,1103.0 1644.0,1105.3 1648.0,1107.7C1652.0,1110.1 1656.0,1112.8 1660.0,1115.6C1664.0,1118.4 1668.0,1121.4 1672.0,1124.3C1676.0,1127.2 1680.0,1130.2 1684.0,1132.9C1688.0,1135.7 1692.0,1138.4 1696.0,1140.9C1700.0,1143.4 1704.0,1145.8 1708.0,1147.9C1712.0,1150.1 1716.0,1152.1 1720.0,1153.9C1724.0,1155.7 1728.0,1157.4 1732.0,1158.9C1736.0,1160.4 1740.0,1161.7 1744.0,1162.9C1748.0,1164.1 1752.0,1165.1 1756.0,1166.0C1760.0,1166.9 1764.0,1167.7 1768.0,1168.3C1772.0,1168.9 1776.0,1169.4 1780.0,1169.7C1784.0,1170.1 1788.0,1170.3 1792.0,1170.4C1796.0,1170.4 1800.0,1170.4 1804.0,1170.2C1808.0,1170.1 1812.0,1169.8 1816.0,1169.4C1820.0,1169.0 1824.0,1168.5 1828.0,1167.8C1832.0,1167.2 1836.0,1166.5 1840.0,1165.6C1844.0,1164.8 1848.0,1163.9 1852.0,1162.8C1856.0,1161.8 1860.0,1160.6 1864.0,1159.4C1868.0,1158.2 1872.0,1156.9 1876.0,1155.5C1880.0,1154.1 1884.0,1152.6 1888.0,1151.0C1892.0,1149.5 1896.0,1147.8 1900.0,1146.1C1904.0,1144.3 1908.0,1142.5 1912.0,1140.6C1916.0,1138.7 1920.0,1136.8 1924.0,1134.7C1928.0,1132.7 1932.0,1130.5 1936.0,1128.4C1940.0,1126.2 1944.0,1123.9 1948.0,1121.6C1952.0,1119.2 1956.0,1116.8 1960.0,1114.3C1964.0,1111.9 1968.0,1109.3 1972.0,1106.7C1976.0,1104.1 1980.0,1101.4 1984.0,1098.7C1988.0,1095.9 1992.0,1093.1 1996.0,1090.3C2000.0,1087.4 2004.0,1084.5 2008.0,1081.5C2012.0,1078.5 2016.0,1075.5 2020.0,1072.4C2024.0,1069.3 2028.0,1066.2 2032.0,1063.0C2036.0,1059.8 2040.0,1056.5 2044.0,1053.2C2048.0,1049.9 2052.0,1046.6 2056.0,1043.2C2060.0,1039.8 2064.0,1036.3 2068.0,1032.8C2072.0,1029.4 2076.0,1025.8 2080.0,1022.3C2084.0,1018.7 2088.0,1015.1 2092.0,1011.4C2096.0,1007.8 2100.0,1004.1 2104.0,1000.3C2108.0,996.6 2112.0,992.8 2116.0,989.0C2120.0,985.2 2124.0,981.4 2128.0,977.5C2132.0,973.6 2136.0,969.7 2140.0,965.8C2144.0,961.9 2148.0,957.9 2152.0,954.0C2156.0,950.0 2160.0,946.0 2164.0,941.9C2168.0,937.9 2172.0,933.8 2176.0,929.8C2180.0,925.7 2184.0,921.6 2188.0,917.5C2192.0,913.3 2196.0,909.2 2200.0,905.1C2204.0,900.9 2208.0,896.7 2212.0,892.5C2216.0,888.4 2220.0,884.2 2224.0,880.0C2228.0,875.8 2233.4,870.0 2236.0,867.3C2238.6,864.6 2238.8,864.4 2239.3,863.8" stroke="#1a803a" stroke-width="6" fill="none" stroke-linejoin="miter" stroke-linecap="butt"/>
<path d="M1771,150H1936" stroke="#161616" stroke-width="8" fill="none"/>
<text x="1953" y="175" font-size="72">0% I<tspan font-size="38" dy="26">2</tspan></text>
<path d="M1771,261H1936" stroke="#e6123a" stroke-width="8" fill="none"/>
<text x="1953" y="286" font-size="72">1% I<tspan font-size="38" dy="26">2</tspan></text>
<path d="M1771,372H1936" stroke="#2420a6" stroke-width="8" fill="none"/>
<text x="1953" y="397" font-size="72">5% I<tspan font-size="38" dy="26">2</tspan></text>
<path d="M1771,483H1936" stroke="#1a803a" stroke-width="8" fill="none"/>
<text x="1953" y="508" font-size="72">10% I<tspan font-size="38" dy="26">2</tspan></text>
<text x="1258" y="1708" font-size="71.5" text-anchor="middle">Energy [eV]</text>
<text id="ylab" transform="translate(87,794.6) rotate(-90)" font-size="71.5" text-anchor="middle">absorption coefficient, <tspan font-family="'Liberation Serif','DejaVu Serif',serif" font-size="68">α</tspan> [<tspan font-family="'Liberation Serif',serif" font-size="66">10</tspan><tspan font-family="'Liberation Serif',serif" font-size="30" dy="-46">5</tspan><tspan dy="46">/cm]</tspan></text>
</g>
</svg>
</body></html>
